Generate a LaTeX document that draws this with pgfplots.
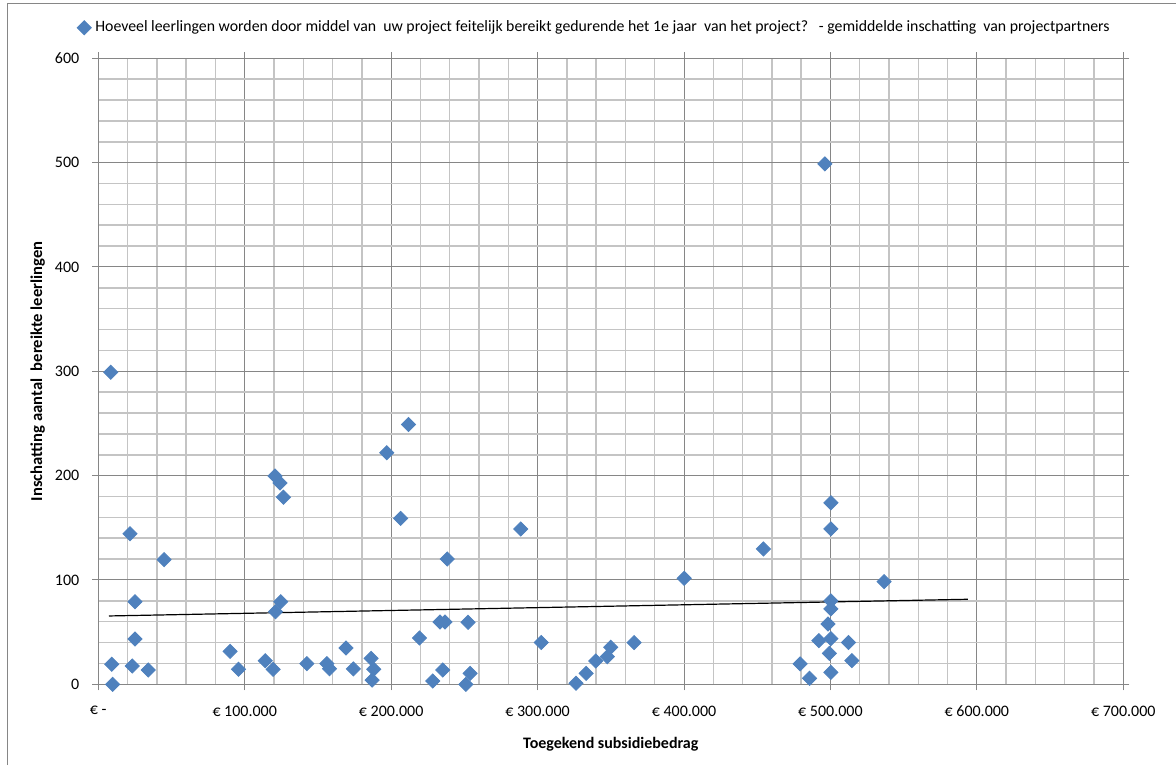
\documentclass[border=0pt]{standalone}
\usepackage{pgfplots}
\pgfplotsset{compat=1.18}
\usepackage{fontspec}
\setmainfont{Carlito}
\definecolor{mblue}{HTML}{4F81BD}
\definecolor{majgrid}{HTML}{868686}
\definecolor{mingrid}{HTML}{C4C4C4}
\begin{document}
\begin{tikzpicture}[x=1pt,y=1pt]
\useasboundingbox (0,0) rectangle (588,382.5);
\draw[color=majgrid, line width=0.5pt] (3.5,0) -- (3.5,380.5) -- (588,380.5);
\begin{axis}[
  at={(49.15pt,40.35pt)}, anchor=south west,
  scale only axis, width=512.5pt, height=313pt,
  xmin=0, xmax=700000, ymin=0, ymax=600,
  xtick={0,100000,200000,300000,400000,500000,600000,700000},
  xticklabels={€ -,€ 100.000,€ 200.000,€ 300.000,€ 400.000,€ 500.000,€ 600.000,€ 700.000},
  ytick={0,100,200,300,400,500,600},
  yticklabels={0,100,200,300,400,500,600},
  minor x tick num=4, minor y tick num=4,
  grid=both,
  major grid style={color=majgrid, line width=0.5pt},
  minor grid style={color=mingrid, line width=0.75pt},
  axis line style={color=majgrid, line width=0.55pt},
  tick align=outside,
  major tick length=3pt, minor tick length=0pt,
  tick style={color=majgrid, line width=0.5pt},
  ticklabel style={font=\fontsize{8}{9.6}\selectfont, color=black},
  xticklabel style={yshift=-4.3pt},
  yticklabel style={xshift=-3pt},
  scaled x ticks=false,
  xlabel={\bfseries Toegekend subsidiebedrag},
  ylabel={\bfseries Inschatting aantal\ \ bereikte leerlingen},
  xlabel style={font=\fontsize{8}{9.6}\selectfont, at={(axis description cs:0.5,0)}, anchor=center, yshift=-29.9pt},
  ylabel style={font=\fontsize{8.3}{10}\selectfont, at={(axis description cs:0,0.5)}, anchor=center, yshift=30.3pt},
  legend style={at={(0.485,1)}, anchor=center, yshift=15.25pt, draw=none, fill=none,
    font=\fontsize{7.9}{9.5}\selectfont, inner sep=0pt},
  legend image code/.code={\draw[mark repeat=2,mark phase=2] plot coordinates {(0cm,0cm) (0.1cm,0cm) (0.2cm,0cm)};},
  legend cell align=left,
  clip=false,
]
\addplot[only marks, mark=square*, mark size=2.5pt, mark options={rotate=45, fill=mblue, draw=mblue}] coordinates {
(8500,299) (9150,19.2) (9800,0) (21650,144.4) (25070,79.2) (25070,43.4) (23200,17.5)
(34100,13.7) (44900,119.5) (90000,31.6) (95700,14.4) (114000,22.6) (119400,14.4)
(120700,199.7) (124100,193) (126400,179.3) (121000,69.6) (124600,79.2)
(142400,19.8) (156100,19.8) (157900,15) (169200,34.8) (174200,14.7)
(186300,24.9) (188100,14.4) (187000,4.1) (197000,222) (206500,159) (211800,249)
(219300,44.4) (228400,3.2) (233400,59.7) (236800,59.7) (235200,13.7) (238300,120)
(252500,59.4) (253900,10.5) (251000,0) (288500,148.9) (302500,40) (326300,1)
(333200,10.5) (339700,22.3) (347600,26.5) (349900,35.5) (365900,40) (400100,101.6)
(454200,129.7) (479300,19.5) (485700,5.7) (492100,41.8) (496200,498.8) (500300,174)
(500300,148.9) (500300,80) (500300,72.2) (498300,57.8) (500300,43.7) (499300,29.7)
(500300,11.5) (512300,40) (514600,22.7) (536600,98.4)
};
\addlegendentry{Hoeveel leerlingen worden door middel van\ \ uw project feitelijk bereikt gedurende het 1e jaar\ \ van het project?\ \ \ - gemiddelde inschatting\ \ van projectpartners}
\addplot[black, line width=0.6pt, forget plot] coordinates {(7300,65.5) (593800,81.5)};
\end{axis}
\end{tikzpicture}
\end{document}
